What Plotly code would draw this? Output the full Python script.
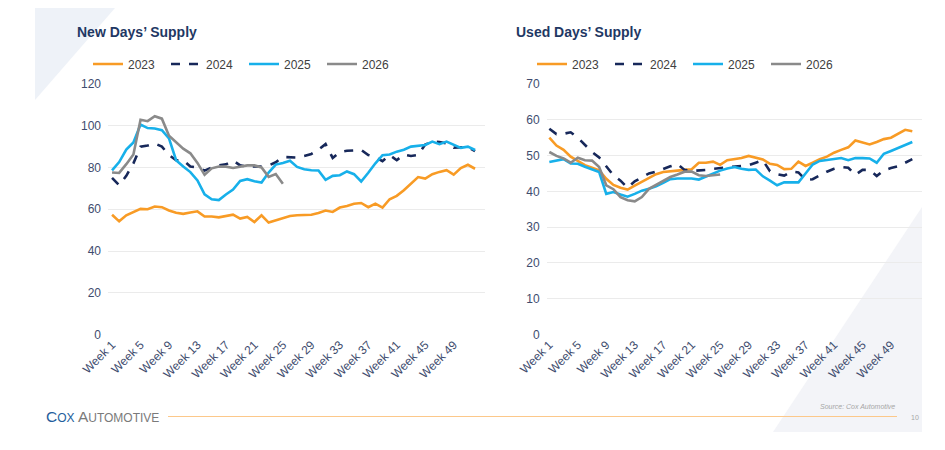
import plotly.graph_objects as go

# Weekly days' supply
WEEKS = ["Week %d" % i for i in range(1, 53)]
TICK_WEEKS = WEEKS[::4]  # Week 1, Week 5, ... Week 49

NEW_2023 = [57.4, 54.2, 57.1, 58.7, 60.2, 60.0, 61.3, 61.0, 59.4, 58.3,
            57.8, 58.4, 59.0, 56.5, 56.5, 56.1, 56.6, 57.4, 55.5, 56.3,
            53.9, 57.1, 53.6, 54.7, 55.5, 56.8, 57.1, 57.1, 57.4, 58.2,
            59.4, 58.7, 60.8, 61.6, 62.6, 63.0, 61.0, 62.7, 60.8, 64.8,
            66.4, 69.1, 72.3, 75.4, 74.7, 76.8, 77.9, 78.7, 76.6, 79.7,
            81.3, 79.4]
NEW_2024 = [75.0, 71.5, 76.0, 82.0, 90.0, 90.5, 91.5, 90.0, 86.0, 83.5,
            83.5, 80.5, 80.0, 78.5, 80.0, 81.0, 81.5, 83.3, 81.0, 80.5,
            80.5, 80.5, 81.0, 82.5, 85.0, 85.0, 84.8, 85.5, 86.5, 88.5,
            91.2, 84.6, 87.4, 88.0, 88.3, 88.4, 86.0, 85.0, 83.0, 86.0,
            83.5, 86.2, 85.5, 86.0, 91.0, 92.4, 92.2, 91.5, 89.5, 89.6,
            89.8, 87.8]
NEW_2025 = [78.6, 82.6, 88.6, 92.0, 100.6, 98.9, 98.7, 97.9, 94.0, 83.5,
            80.5, 77.8, 73.8, 67.1, 64.8, 64.4, 67.1, 69.4, 73.6, 74.4,
            73.4, 72.8, 77.6, 81.4, 82.2, 83.2, 80.3, 79.2, 78.7, 78.6,
            74.1, 76.0, 76.3, 78.1, 76.8, 73.3, 77.5, 82.0, 85.9, 86.2,
            87.6, 88.5, 90.0, 90.5, 90.8, 92.4, 91.2, 92.4, 90.8, 89.4,
            90.0, 88.4]
NEW_2026 = [77.6, 77.4, 81.6, 86.2, 102.9, 102.2, 104.6, 103.4, 95.2, 92.2,
            89.0, 86.8, 82.2, 76.5, 79.6, 80.5, 80.4, 79.8, 80.4, 81.0,
            81.0, 80.0, 75.5, 76.9, 72.2]

USED_2023 = [55.0, 52.8, 51.6, 49.7, 48.5, 47.3, 46.6, 45.9, 43.5, 41.8,
             41.0, 40.5, 41.6, 42.7, 43.8, 44.8, 45.4, 45.7, 45.8, 46.0,
             46.2, 48.0, 48.0, 48.3, 47.4, 48.7, 48.9, 49.3, 49.9, 49.5,
             48.9, 47.7, 47.4, 46.2, 46.3, 48.3, 47.1, 48.0, 49.0, 49.7,
             50.8, 51.6, 52.3, 54.2, 53.6, 53.1, 53.8, 54.6, 55.0, 56.2,
             57.2, 56.8]
USED_2024 = [57.5, 56.0, 56.1, 56.5, 55.0, 53.0, 51.0, 49.5, 47.0, 44.5,
             43.0, 41.0, 42.8, 44.0, 45.0, 45.5, 46.3, 47.0, 47.6, 46.0,
             45.7, 45.8, 46.0, 46.3, 46.5, 46.5, 46.8, 47.0, 47.3, 48.0,
             48.7, 45.6, 44.8, 44.4, 45.5, 45.3, 43.2, 43.4, 44.5, 45.5,
             46.3, 46.8, 46.6, 44.6, 46.0, 46.0, 44.3, 45.9, 46.5, 47.0,
             48.0, 49.0]
USED_2025 = [48.2, 48.6, 49.0, 47.8, 47.7, 46.9, 46.1, 45.4, 39.3, 39.8,
             39.1, 38.5, 39.3, 40.2, 40.7, 41.4, 42.4, 43.4, 43.6, 43.6,
             43.6, 43.3, 44.2, 45.1, 45.8, 46.4, 46.8, 46.3, 46.0, 46.1,
             44.2, 43.0, 41.7, 42.5, 42.5, 42.5, 45.0, 47.5, 48.5, 48.8,
             49.0, 49.3, 48.7, 49.3, 49.3, 49.2, 48.0, 50.5, 51.3, 52.2,
             53.0, 53.8]
USED_2026 = [51.0, 49.9, 49.2, 48.0, 49.4, 48.7, 48.6, 46.8, 41.7, 40.6,
             38.4, 37.5, 37.2, 38.4, 40.7, 41.8, 43.0, 44.0, 44.7, 45.5,
             45.5, 44.5, 44.3, 44.5, 44.7]

YEARS = ["2023", "2024", "2025", "2026"]
COLORS = ["#F89B25", "#17285A", "#17B0EA", "#8A8A8A"]
DASHES = ["solid", "dash", "solid", "solid"]

FONT = "Liberation Sans, Arial, sans-serif"
TICK_COLOR = "#3E4C6E"

# the page body adds an 8px margin, so the figure is drawn smaller and
# slide pixel positions are shifted by that margin
OFF = 8
W, H = 945 - 2 * OFF, 450 - 2 * OFF


def px(x, y):
    # slide pixel position -> paper coords
    return (x - OFF) / W, 1 - (y - OFF) / H


def pxx(x):
    return px(x, 0)[0]


def pxy(y):
    return px(0, y)[1]


fig = go.Figure()

for year, vals, col, dash in zip(YEARS, [NEW_2023, NEW_2024, NEW_2025, NEW_2026], COLORS, DASHES):
    fig.add_trace(go.Scatter(x=WEEKS[:len(vals)], y=vals, name=year, mode="lines",
                             line=dict(color=col, width=2.6, dash=dash),
                             xaxis="x", yaxis="y", legend="legend"))

for year, vals, col, dash in zip(YEARS, [USED_2023, USED_2024, USED_2025, USED_2026], COLORS, DASHES):
    fig.add_trace(go.Scatter(x=WEEKS[:len(vals)], y=vals, name=year, mode="lines",
                             line=dict(color=col, width=2.6, dash=dash),
                             xaxis="x2", yaxis="y2", legend="legend2"))

xcommon = dict(type="category", categoryorder="array", categoryarray=WEEKS,
               tickmode="array", tickvals=TICK_WEEKS, ticktext=TICK_WEEKS,
               tickangle=-45, showgrid=False, showline=False, zeroline=False,
               ticks="", tickfont=dict(size=12, color=TICK_COLOR, family=FONT),
               automargin=False, fixedrange=True)
ycommon = dict(showgrid=True, gridcolor="#EBEBEB", gridwidth=1, zeroline=False,
               showline=False, ticks="", ticklabelstandoff=6,
               tickfont=dict(size=12, color=TICK_COLOR, family=FONT),
               automargin=False, domain=[pxy(334.5), pxy(84)])

legcommon = dict(orientation="h", yanchor="middle", xanchor="left",
                 itemwidth=30, entrywidth=33, entrywidthmode="pixels",
                 font=dict(size=12, color="#404040", family=FONT),
                 bgcolor="rgba(0,0,0,0)", itemclick=False)

fig.update_layout(
    width=W, height=H,
    margin=dict(l=0, r=0, t=0, b=0),
    paper_bgcolor="white", plot_bgcolor="rgba(0,0,0,0)",
    xaxis=dict(xcommon, domain=[pxx(108), pxx(485)], range=[-0.57, 52.4]),
    yaxis=dict(ycommon, range=[0, 120], dtick=20),
    xaxis2=dict(xcommon, domain=[pxx(546.7), pxx(921.7)], range=[-0.37, 52.32], anchor="y2"),
    yaxis2=dict(ycommon, range=[0, 70], dtick=10, anchor="x2"),
    legend=dict(legcommon, x=pxx(88), y=pxy(64)),
    legend2=dict(legcommon, x=pxx(532), y=pxy(64)),
    showlegend=True,
)

# background decorations
fig.add_shape(type="path", xref="paper", yref="paper", layer="below", line_width=0,
              fillcolor="#EEF2F8",
              path="M %f,%f L %f,%f L %f,%f Z" % (*px(35, 8), *px(115, 8), *px(35, 100)))
fig.add_shape(type="path", xref="paper", yref="paper", layer="below", line_width=0,
              fillcolor="#F3F4F8",
              path="M %f,%f L %f,%f L %f,%f Z" % (*px(773, 432), *px(922, 432), *px(922, 207)))
fig.add_shape(type="line", xref="paper", yref="paper", x0=pxx(168), x1=pxx(897),
              y0=pxy(416.5), y1=pxy(416.5), line=dict(color="#FCC88A", width=1))

titles = [("New Days’ Supply", 75), ("Used Days’ Supply", 514)]
for txt, xpix in titles:
    fig.add_annotation(text="<b>%s</b>" % txt, x=pxx(xpix), y=pxy(32), xref="paper", yref="paper",
                       xanchor="left", yanchor="middle", showarrow=False,
                       font=dict(size=14, color="#1F3864", family=FONT))

fig.add_annotation(
    text="<span style='color:#235E9C;font-size:15.5px'>C</span>"
         "<span style='color:#235E9C;font-size:12px'>OX </span>"
         "<span style='color:#7A7A7A;font-size:15.5px'>A</span>"
         "<span style='color:#7A7A7A;font-size:12px'>UTOMOTIVE</span>",
    x=pxx(44), y=pxy(416), xref="paper", yref="paper", xanchor="left", yanchor="middle",
    showarrow=False, font=dict(family=FONT, size=12))
fig.add_annotation(text="<i>Source: Cox Automotive</i>", x=pxx(897), y=pxy(406.5),
                   xref="paper", yref="paper", xanchor="right", yanchor="middle", showarrow=False,
                   font=dict(size=7, color="#A6A6A6", family=FONT))
fig.add_annotation(text="10", x=pxx(915), y=pxy(417), xref="paper", yref="paper",
                   xanchor="center", yanchor="middle", showarrow=False,
                   font=dict(size=7, color="#A6A6A6", family=FONT))

fig.write_html("out.html")
